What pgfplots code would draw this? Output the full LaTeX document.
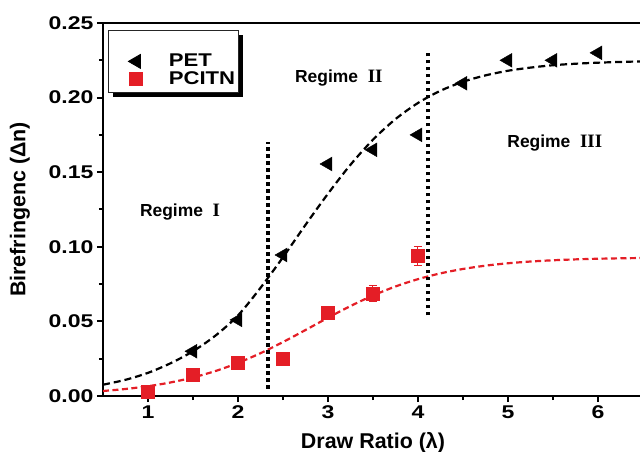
\documentclass[border=0pt]{standalone}
\usepackage{pgfplots}
\pgfplotsset{compat=1.18}
\usepackage{fontspec}
\setmainfont{Liberation Sans}
\newfontfamily\tickfont{Liberation Sans}[FakeStretch=1.25]
\newfontfamily\legfont{Liberation Sans}[FakeStretch=1.2]
\newfontfamily\romfont{Liberation Serif}
\usetikzlibrary{shadows}
\definecolor{pcred}{RGB}{228,30,38}

% fitted sigmoid curves (tabulated)
\pgfplotstableread{
x      pet      pcitn
0.50   0.00757  0.00335
0.75   0.01086  0.00470
1.00   0.01551  0.00655
1.25   0.02193  0.00907
1.50   0.03000  0.01242
1.75   0.04050  0.01675
2.00   0.05400  0.02217
2.25   0.07250  0.02869
2.50   0.09300  0.03616
2.75   0.11470  0.04422
3.00   0.13560  0.05245
3.25   0.15500  0.06029
3.50   0.17180  0.06736
3.75   0.18560  0.07340
4.00   0.19640  0.07832
4.25   0.20460  0.08220
4.50   0.21060  0.08515
4.75   0.21490  0.08735
5.00   0.21800  0.08896
5.25   0.22010  0.09013
5.50   0.22170  0.09097
5.75   0.22270  0.09157
6.00   0.22340  0.09199
6.25   0.22390  0.09229
6.50   0.22430  0.09250
}\fits

\newcommand\regime[1]{Regime\ \ {\romfont\bfseries\fontsize{19}{20}\selectfont #1}}

\begin{document}
\begin{tikzpicture}
\begin{axis}[
  at={(0,0)}, anchor=south west,
  scale only axis, width=540bp, height=373bp,
  xmin=0.5, xmax=6.5, ymin=0, ymax=0.25,
  axis line style={line width=2.2bp},
  tick align=outside,
  xtick={1,2,3,4,5,6},
  ytick={0,0.05,0.10,0.15,0.20,0.25},
  minor x tick num=1, minor y tick num=1,
  xtick pos=bottom, ytick pos=left,
  major tick length=6bp, minor tick length=4bp,
  every tick/.style={line width=2bp, black},
  /pgf/number format/assume math mode=true,
  yticklabel style={/pgf/number format/.cd, fixed, fixed zerofill, precision=2},
  ticklabel style={font=\tickfont\bfseries\fontsize{18.5}{20}\selectfont},
  xlabel={Draw Ratio (λ)},
  ylabel={Birefringenc (Δn)},
  label style={font=\bfseries\fontsize{21.5}{24}\selectfont},
  xlabel style={at={(axis description cs:0.5,-0.142)}, anchor=base},
  ylabel style={at={(axis description cs:-0.154,0.5)}, anchor=center},
  legend style={at={(0,1)}, anchor=north west, xshift=5bp, yshift=-7bp,
    draw=black!85, line width=0.8bp, fill=white,
    drop shadow={shadow xshift=5bp, shadow yshift=-5bp, fill=black, opacity=1},
    font=\legfont\bfseries\fontsize{18.5}{20}\selectfont,
    inner xsep=3bp, inner ysep=5bp, row sep=2bp, column sep=0bp,
    nodes={inner sep=0bp, text height=13bp, text depth=3bp}},
  legend cell align=left,
  legend image code/.code={%
    \node[anchor=west, inner sep=0pt, minimum width=55bp, minimum height=1bp,
      draw opacity=0, fill opacity=0, text opacity=0] at (0bp,0bp) {};
    \draw[#1] plot coordinates {(25bp,0bp)};},
]
% spacer row at the top of the key
\addlegendimage{empty legend}
\addlegendentry{}

% fitted curves
\addplot[forget plot, black, line width=2.2bp, dash pattern=on 7bp off 4bp, smooth]
  table[x=x, y=pet] {\fits};
\addplot[forget plot, pcred, line width=2.2bp, dash pattern=on 6bp off 3.5bp, smooth]
  table[x=x, y=pcitn] {\fits};

% regime boundaries
\addplot[forget plot, black, line width=3.5bp, dash pattern=on 3.5bp off 3.5bp]
  coordinates {(2.333,0.005) (2.333,0.170)};
\addplot[forget plot, black, line width=3.5bp, dash pattern=on 3.5bp off 3.5bp]
  coordinates {(4.11,0.054) (4.11,0.230)};

% measured data
\addplot[only marks, mark=triangle*, mark size=8bp, black,
  mark options={rotate=90}]
  coordinates {(1.5,0.0300) (2.0,0.0510) (2.5,0.0945) (3.0,0.1555)
               (3.5,0.1650) (4.0,0.1750) (4.5,0.2096) (5.0,0.2250)
               (5.5,0.2250) (6.0,0.2300)};
\addlegendentry{\hspace{2bp}PET}

\addplot[forget plot, draw=none, mark=none, pcred,
  error bars/.cd, y dir=both, y explicit,
  error bar style={line width=1bp, pcred},
  error mark options={rotate=90, mark size=4bp, line width=1bp, pcred}]
  coordinates {(3.0,0.0555) +- (0,0.0045) (3.5,0.0686) +- (0,0.0054)
               (4.0,0.0940) +- (0,0.0062)};
\addplot[only marks, mark=square*, mark size=6.5bp, pcred]
  coordinates {(1.0,0.0030) (1.5,0.0140) (2.0,0.0220) (2.5,0.0250)
               (3.0,0.0555) (3.5,0.0686) (4.0,0.0940)};
\addlegendentry{\hspace{2bp}PCITN\hspace{3bp}}

% regime labels
\node[font=\bfseries\fontsize{17.5}{20}\selectfont] at (axis cs:1.356,0.123)
  {\regime{I}};
\node[font=\bfseries\fontsize{17.5}{20}\selectfont] at (axis cs:3.12,0.213)
  {\regime{II}};
\node[font=\bfseries\fontsize{17.5}{20}\selectfont] at (axis cs:5.52,0.1696)
  {\regime{III}};
\end{axis}
\pgfresetboundingbox
\useasboundingbox (-103bp,-56bp) rectangle (537bp,396bp);
\end{tikzpicture}
\end{document}
